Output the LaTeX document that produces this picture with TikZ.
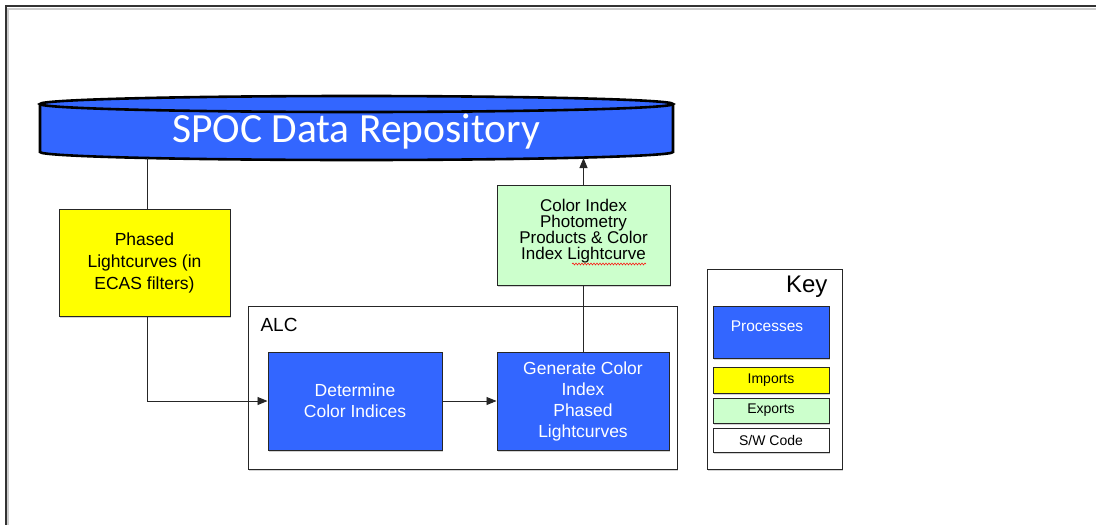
\documentclass[tikz,border=0pt]{standalone}
\usepackage{fontspec}
\newfontfamily\arialf{Liberation Sans}
\newfontfamily\calibrif{Carlito}
\usetikzlibrary{arrows.meta,shadows,decorations.pathmorphing}
\definecolor{procblue}{HTML}{3366FF}
\definecolor{impyellow}{HTML}{FFFF00}
\definecolor{expgreen}{HTML}{CCFFCC}
\tikzset{
  box/.style={draw=black!85, line width=1pt, inner sep=0pt, align=center, fill=white,
    drop shadow={shadow xshift=1pt, shadow yshift=-1.5pt, opacity=0.35}},
  proc/.style={box, fill=procblue, text=white, font=\arialf\fontsize{17.5}{21}\selectfont},
  imp/.style={box, fill=impyellow, font=\arialf\fontsize{17.5}{22}\selectfont},
  exp/.style={box, fill=expgreen},
  keyitem/.style={box, font=\arialf\fontsize{14}{15}\selectfont},
  conn/.style={draw=black!85, line width=0.9pt},
  arr/.style={conn, -{Triangle[length=10pt,width=8pt]}},
}
\begin{document}
\begin{tikzpicture}[x=1pt,y=1pt]
\useasboundingbox (0,0) rectangle (1096,-525);
% page frame
\draw[black!20, line width=2pt] (8,-525) -- (8,-9) -- (1096,-9);
\draw[black!80, line width=1.4pt] (6,-525) -- (6,-6) -- (1096,-6);
% repository cylinder
\fill[procblue] (40,-104) -- (40,-152) arc[start angle=180, end angle=360, x radius=316.5, y radius=8]
  -- (673,-104) arc[start angle=0, end angle=180, x radius=316.5, y radius=8] -- cycle;
\draw[black, line width=2.6pt] (40,-104) -- (40,-152) arc[start angle=180, end angle=360, x radius=316.5, y radius=8] -- (673,-104);
\draw[black, line width=2.6pt] (356.5,-104) ellipse[x radius=316.5, y radius=8];
\node[text=white, font=\calibrif\fontsize{41.5}{44}\selectfont] (repo) at (356,-132) {SPOC Data Repository};
\coordinate (rin) at (147,-158);
\coordinate (rout) at (583.5,-158);
% boxes
\node[imp, minimum width=171pt, minimum height=107pt] (yel) at (144.5,-262.5) {Phased\\Lightcurves (in\\ECAS filters)};
\node[exp, minimum width=173pt, minimum height=100pt] (grn) at (583.5,-235) {};
\node[font=\arialf\fontsize{17}{16.2}\selectfont, align=center] (grntxt) at (583.5,-231) {Color Index\\Photometry\\Products \& Color\\Index Lightcurve};
\draw[red, line width=0.5pt, decorate, decoration={snake, amplitude=1pt, segment length=3pt}] (572,-264) -- (646,-264);
\node[box, minimum width=429pt, minimum height=163pt] (alc) at (462.5,-387.5) {};
\node[font=\arialf\fontsize{19}{20}\selectfont, anchor=west] (alclbl) at (257,-325) {ALC};
\node[proc, minimum width=174pt, minimum height=98pt] (det) at (355,-401) {Determine\\Color Indices};
\node[proc, minimum width=172pt, minimum height=98pt] (gen) at (583,-401) {Generate Color\\Index\\Phased\\Lightcurves};
% key
\node[box, minimum width=135pt, minimum height=200pt] (key) at (774.5,-369) {};
\node[font=\arialf\fontsize{24}{25}\selectfont, anchor=east] (keylbl) at (831,-287) {Key};
\node[keyitem, fill=procblue, minimum width=116pt, minimum height=52pt] (kproc) at (771,-332) {};
\node[text=white, font=\arialf\fontsize{15.5}{16}\selectfont] (kproctxt) at (767,-326) {Processes};
\node[keyitem, fill=impyellow, minimum width=116pt, minimum height=26pt] (kimp) at (771,-380) {Imports};
\node[keyitem, fill=expgreen, minimum width=116pt, minimum height=25pt] (kexp) at (771,-410.5) {Exports};
\node[keyitem, fill=white, minimum width=116pt, minimum height=24pt] (ksw) at (771,-440) {S/W Code};
% connectors
\draw[conn] (rin) -- (rin |- yel.north);
\draw[arr] (rin |- yel.south) |- (det.west);
\draw[arr] (det.east) -- (gen.west);
\draw[conn] (gen.north) -- (gen.north |- grn.south);
\draw[arr] (grn.north) -- (rout);
\end{tikzpicture}
\end{document}
